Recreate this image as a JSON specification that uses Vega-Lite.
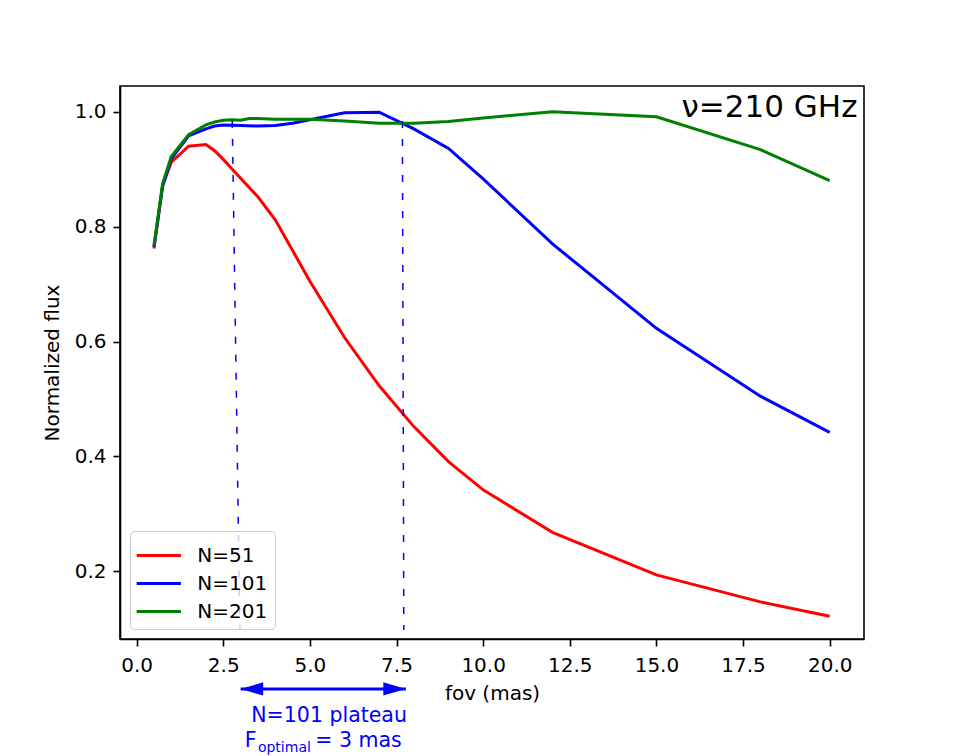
{
  "$schema": "https://vega.github.io/schema/vega-lite/v6.json",
  "autosize": {"type": "none"},
  "width": 744,
  "height": 553,
  "padding": {"left": 120, "top": 86, "right": 96, "bottom": 117},
  "background": "white",
  "config": {
    "font": "DejaVu Sans",
    "view": {"stroke": "black", "strokeWidth": 1.6},
    "axis": {
      "grid": false,
      "domainColor": "black",
      "domainWidth": 1.6,
      "tickColor": "black",
      "tickWidth": 1.6,
      "tickSize": 7,
      "labelFont": "DejaVu Sans",
      "labelFontSize": 20,
      "labelColor": "black",
      "titleFont": "DejaVu Sans",
      "titleFontSize": 20,
      "titleFontWeight": "normal",
      "titleColor": "black"
    }
  },
  "datasets": {
    "series": [
      {"fov": 0.5, "flux": 0.762, "N": "N=51"},
      {"fov": 0.75, "flux": 0.872, "N": "N=51"},
      {"fov": 1.0, "flux": 0.912, "N": "N=51"},
      {"fov": 1.5, "flux": 0.940, "N": "N=51"},
      {"fov": 2.0, "flux": 0.943, "N": "N=51"},
      {"fov": 2.25, "flux": 0.932, "N": "N=51"},
      {"fov": 2.5, "flux": 0.917, "N": "N=51"},
      {"fov": 3.0, "flux": 0.884, "N": "N=51"},
      {"fov": 3.5, "flux": 0.852, "N": "N=51"},
      {"fov": 4.0, "flux": 0.812, "N": "N=51"},
      {"fov": 5.0, "flux": 0.705, "N": "N=51"},
      {"fov": 6.0, "flux": 0.607, "N": "N=51"},
      {"fov": 7.0, "flux": 0.523, "N": "N=51"},
      {"fov": 8.0, "flux": 0.452, "N": "N=51"},
      {"fov": 9.0, "flux": 0.391, "N": "N=51"},
      {"fov": 10.0, "flux": 0.342, "N": "N=51"},
      {"fov": 12.0, "flux": 0.268, "N": "N=51"},
      {"fov": 15.0, "flux": 0.194, "N": "N=51"},
      {"fov": 18.0, "flux": 0.147, "N": "N=51"},
      {"fov": 20.0, "flux": 0.122, "N": "N=51"},
      {"fov": 0.5, "flux": 0.765, "N": "N=101"},
      {"fov": 0.75, "flux": 0.870, "N": "N=101"},
      {"fov": 1.0, "flux": 0.918, "N": "N=101"},
      {"fov": 1.5, "flux": 0.958, "N": "N=101"},
      {"fov": 2.0, "flux": 0.970, "N": "N=101"},
      {"fov": 2.25, "flux": 0.975, "N": "N=101"},
      {"fov": 2.5, "flux": 0.977, "N": "N=101"},
      {"fov": 3.0, "flux": 0.976, "N": "N=101"},
      {"fov": 3.5, "flux": 0.975, "N": "N=101"},
      {"fov": 4.0, "flux": 0.976, "N": "N=101"},
      {"fov": 4.5, "flux": 0.980, "N": "N=101"},
      {"fov": 5.0, "flux": 0.986, "N": "N=101"},
      {"fov": 6.0, "flux": 0.998, "N": "N=101"},
      {"fov": 7.0, "flux": 0.999, "N": "N=101"},
      {"fov": 8.0, "flux": 0.970, "N": "N=101"},
      {"fov": 9.0, "flux": 0.936, "N": "N=101"},
      {"fov": 10.0, "flux": 0.883, "N": "N=101"},
      {"fov": 12.0, "flux": 0.770, "N": "N=101"},
      {"fov": 15.0, "flux": 0.623, "N": "N=101"},
      {"fov": 18.0, "flux": 0.505, "N": "N=101"},
      {"fov": 20.0, "flux": 0.442, "N": "N=101"},
      {"fov": 0.5, "flux": 0.767, "N": "N=201"},
      {"fov": 0.75, "flux": 0.875, "N": "N=201"},
      {"fov": 1.0, "flux": 0.922, "N": "N=201"},
      {"fov": 1.5, "flux": 0.960, "N": "N=201"},
      {"fov": 2.0, "flux": 0.977, "N": "N=201"},
      {"fov": 2.25, "flux": 0.982, "N": "N=201"},
      {"fov": 2.5, "flux": 0.985, "N": "N=201"},
      {"fov": 2.75, "flux": 0.986, "N": "N=201"},
      {"fov": 3.0, "flux": 0.985, "N": "N=201"},
      {"fov": 3.25, "flux": 0.988, "N": "N=201"},
      {"fov": 3.5, "flux": 0.988, "N": "N=201"},
      {"fov": 4.0, "flux": 0.987, "N": "N=201"},
      {"fov": 5.0, "flux": 0.987, "N": "N=201"},
      {"fov": 6.0, "flux": 0.984, "N": "N=201"},
      {"fov": 7.0, "flux": 0.980, "N": "N=201"},
      {"fov": 8.0, "flux": 0.980, "N": "N=201"},
      {"fov": 9.0, "flux": 0.983, "N": "N=201"},
      {"fov": 10.0, "flux": 0.989, "N": "N=201"},
      {"fov": 12.0, "flux": 1.000, "N": "N=201"},
      {"fov": 15.0, "flux": 0.991, "N": "N=201"},
      {"fov": 18.0, "flux": 0.934, "N": "N=201"},
      {"fov": 20.0, "flux": 0.880, "N": "N=201"}
    ],
    "dashes": [
      {"fov": 2.76, "flux": 0.984, "fov2": 2.98, "flux2": 0.098},
      {"fov": 7.67, "flux": 0.984, "fov2": 7.71, "flux2": 0.098}
    ],
    "arrow": [
      {"fov": 3.0, "fov2": 7.77, "flux": -0.0045}
    ],
    "headL": [{"fov": 3.326, "flux": -0.0045}],
    "headR": [{"fov": 7.444, "flux": -0.0045}],
    "labelR": [
      {"fov": 7.8, "flux": -0.052, "text": "N=101 plateau"},
      {"fov": 7.65, "flux": -0.0957, "text": "= 3 mas"}
    ],
    "labelL": [
      {"fov": 3.12, "flux": -0.0957, "text": "F"}
    ],
    "labelSub": [
      {"fov": 3.5, "flux": -0.1066, "text": "optimal"}
    ],
    "title": [
      {"fov": 20.8, "flux": 0.9913, "text": "ν=210 GHz"}
    ]
  },
  "layer": [
    {
      "data": {"name": "series"},
      "mark": {"type": "line", "strokeWidth": 3, "clip": false},
      "encoding": {
        "x": {
          "field": "fov", "type": "quantitative",
          "scale": {"domain": [-0.48, 20.99], "nice": false, "zero": false},
          "axis": {"title": "fov (mas)", "values": [0, 2.5, 5, 7.5, 10, 12.5, 15, 17.5, 20], "format": ".1f", "labelPadding": 9, "titlePadding": 8}
        },
        "y": {
          "field": "flux", "type": "quantitative",
          "scale": {"domain": [0.0824, 1.0447], "nice": false, "zero": false},
          "axis": {"title": "Normalized flux", "values": [0.2, 0.4, 0.6, 0.8, 1.0], "format": ".1f", "labelPadding": 7, "titlePadding": 12}
        },
        "color": {
          "field": "N", "type": "nominal",
          "scale": {"domain": ["N=51", "N=101", "N=201"], "range": ["#ff0000", "#0000ff", "#008000"]},
          "legend": {
            "title": null,
            "orient": "none",
            "legendX": 10,
            "legendY": 445,
            "symbolType": "M-1.4,0L1.4,0",
            "symbolSize": 1000,
            "symbolOffset": 4.3,
            "symbolStrokeWidth": 3,
            "labelFontSize": 20,
            "labelFont": "DejaVu Sans",
            "labelColor": "black",
            "labelOffset": 21,
            "rowPadding": 0,
            "padding": 7,
            "fillColor": "rgba(255,255,255,0.8)",
            "strokeColor": "#cccccc",
            "cornerRadius": 4
          }
        }
      }
    },
    {
      "data": {"name": "dashes"},
      "mark": {"type": "rule", "color": "#0000ff", "strokeWidth": 1.5, "strokeDash": [7, 11]},
      "encoding": {
        "x": {"field": "fov", "type": "quantitative"},
        "y": {"field": "flux", "type": "quantitative"},
        "x2": {"field": "fov2"},
        "y2": {"field": "flux2"}
      }
    },
    {
      "data": {"name": "arrow"},
      "mark": {"type": "rule", "color": "#0000ff", "strokeWidth": 3},
      "encoding": {
        "x": {"field": "fov", "type": "quantitative"},
        "x2": {"field": "fov2"},
        "y": {"field": "flux", "type": "quantitative"}
      }
    },
    {
      "data": {"name": "headL"},
      "mark": {"type": "point", "shape": "M-1,0L1,-0.59L1,0.59Z", "filled": true, "color": "#0000ff", "size": 511, "opacity": 1},
      "encoding": {
        "x": {"field": "fov", "type": "quantitative"},
        "y": {"field": "flux", "type": "quantitative"}
      }
    },
    {
      "data": {"name": "headR"},
      "mark": {"type": "point", "shape": "M1,0L-1,-0.59L-1,0.59Z", "filled": true, "color": "#0000ff", "size": 511, "opacity": 1},
      "encoding": {
        "x": {"field": "fov", "type": "quantitative"},
        "y": {"field": "flux", "type": "quantitative"}
      }
    },
    {
      "data": {"name": "labelR"},
      "mark": {"type": "text", "align": "right", "baseline": "middle", "fontSize": 20.5, "color": "#0000ff", "font": "DejaVu Sans"},
      "encoding": {
        "x": {"field": "fov", "type": "quantitative"},
        "y": {"field": "flux", "type": "quantitative"},
        "text": {"field": "text"}
      }
    },
    {
      "data": {"name": "labelL"},
      "mark": {"type": "text", "align": "left", "baseline": "middle", "fontSize": 20.5, "color": "#0000ff", "font": "DejaVu Sans"},
      "encoding": {
        "x": {"field": "fov", "type": "quantitative"},
        "y": {"field": "flux", "type": "quantitative"},
        "text": {"field": "text"}
      }
    },
    {
      "data": {"name": "labelSub"},
      "mark": {"type": "text", "align": "left", "baseline": "middle", "fontSize": 14, "color": "#0000ff", "font": "DejaVu Sans"},
      "encoding": {
        "x": {"field": "fov", "type": "quantitative"},
        "y": {"field": "flux", "type": "quantitative"},
        "text": {"field": "text"}
      }
    },
    {
      "data": {"name": "title"},
      "mark": {"type": "text", "align": "right", "baseline": "alphabetic", "fontSize": 31, "color": "black", "font": "DejaVu Sans"},
      "encoding": {
        "x": {"field": "fov", "type": "quantitative"},
        "y": {"field": "flux", "type": "quantitative"},
        "text": {"field": "text"}
      }
    }
  ]
}
